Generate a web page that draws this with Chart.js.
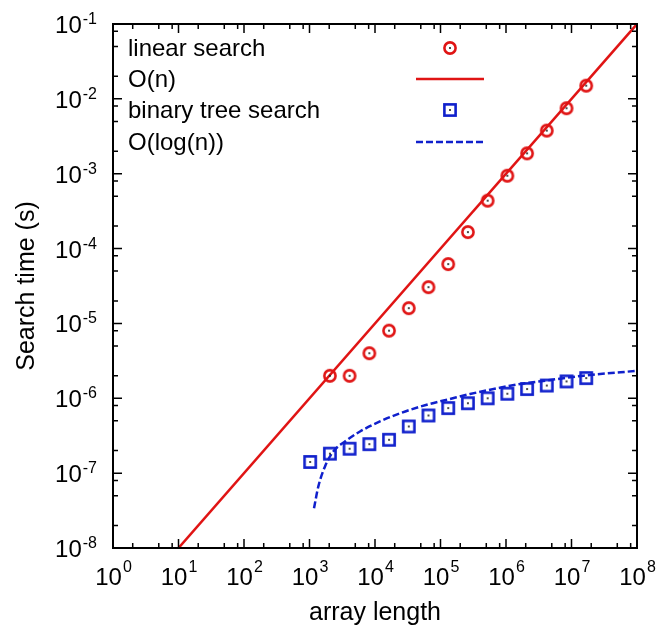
<!DOCTYPE html>
<html>
<head>
<meta charset="utf-8">
<script src="https://cdn.jsdelivr.net/npm/chart.js@4.4.0/dist/chart.umd.min.js"></script>
<style>
  html, body { margin: 0; padding: 0; background: #fff; }
  #wrap { width: 656px; height: 626px; }
</style>
</head>
<body>
<div id="wrap"><canvas id="myChart" width="656" height="626"></canvas></div>
<script>
// measured array lengths (powers of two) and search times
const treeLengths = [1024, 2048, 4096, 8192, 16384, 32768, 65536, 131072, 262144, 524288, 1048576, 2097152, 4194304, 8388608, 16777216];
const treeTimes = [1.41e-7, 1.82e-7, 2.12e-7, 2.44e-7, 2.79e-7, 4.2e-7, 5.9e-7, 7.4e-7, 8.6e-7, 1.0e-6, 1.15e-6, 1.33e-6, 1.48e-6, 1.68e-6, 1.86e-6];

const linearLengths = [2048, 4096, 8192, 16384, 32768, 65536, 131072, 262144, 524288, 1048576, 2097152, 4194304, 8388608, 16777216];
const linearTimes = [2.0e-6, 2.0e-6, 4.0e-6, 8.0e-6, 1.6e-5, 3.05e-5, 6.2e-5, 1.66e-4, 4.37e-4, 9.4e-4, 1.87e-3, 3.77e-3, 7.5e-3, 1.5e-2];

// fit curves
const fitNLengths = [10, 1e8];
const fitNTimes = [1e-8, 1e-1];
const fitLogLengths = [1172, 1362, 1725, 2308, 3483, 5902, 11900, 24100, 61600, 140000, 282000, 1640000, 4180000, 15100000, 100000000];
const fitLogTimes = [3.4e-8, 6.6e-8, 1.23e-7, 1.95e-7, 2.65e-7, 3.6e-7, 4.9e-7, 6.3e-7, 8.2e-7, 9.8e-7, 1.14e-6, 1.55e-6, 1.73e-6, 2.0e-6, 2.33e-6];

// axis tick labels (powers of ten) and minor tick multipliers
const xTickExps = [0, 1, 2, 3, 4, 5, 6, 7, 8];
const yTickExps = [-8, -7, -6, -5, -4, -3, -2, -1];
const minorSteps = [2, 5, 8];

const legendLabels = ['linear search', 'O(n)', 'binary tree search', 'O(log(n))'];

const RED = '#e01414';
const BLUE = '#1020cc';
const FONT = '"Liberation Sans", Arial, Helvetica, sans-serif';

const toPoints = (xs, ys) => xs.map((v, i) => ({x: v, y: ys[i]}));

// marker images: open circle / open square with a dot in the middle
function makeMarker(kind, color) {
    const c = document.createElement('canvas');
    c.width = 16;
    c.height = 16;
    const g = c.getContext('2d');
    g.strokeStyle = color;
    g.lineWidth = 2.6;
    if (kind === 'circle') {
        g.beginPath();
        g.arc(8, 8, 5.6, 0, Math.PI * 2);
        g.stroke();
    } else {
        g.strokeRect(2.4, 2.4, 11.2, 11.2);
    }
    g.fillStyle = '#222';
    g.fillRect(7.1, 7.1, 1.8, 1.8);
    return c;
}
const circleMarker = makeMarker('circle', RED);
const squareMarker = makeMarker('square', BLUE);

const frame = {
    id: 'frame',
    afterDraw(chart) {
        const {ctx, chartArea: a, scales: {x, y}} = chart;
        ctx.save();

        // ticks, inward on all four sides
        ctx.strokeStyle = '#000';
        ctx.lineWidth = 1.5;
        ctx.beginPath();
        xTickExps.forEach(e => {
            const px = x.getPixelForValue(Math.pow(10, e));
            ctx.moveTo(px, a.bottom); ctx.lineTo(px, a.bottom - 9);
            ctx.moveTo(px, a.top); ctx.lineTo(px, a.top + 9);
            if (e < 8) {
                minorSteps.forEach(m => {
                    const mx = x.getPixelForValue(m * Math.pow(10, e));
                    ctx.moveTo(mx, a.bottom); ctx.lineTo(mx, a.bottom - 5);
                    ctx.moveTo(mx, a.top); ctx.lineTo(mx, a.top + 5);
                });
            }
        });
        yTickExps.forEach(e => {
            const py = y.getPixelForValue(Math.pow(10, e));
            ctx.moveTo(a.left, py); ctx.lineTo(a.left + 9, py);
            ctx.moveTo(a.right, py); ctx.lineTo(a.right - 9, py);
            if (e < -1) {
                minorSteps.forEach(m => {
                    const my = y.getPixelForValue(m * Math.pow(10, e));
                    ctx.moveTo(a.left, my); ctx.lineTo(a.left + 5, my);
                    ctx.moveTo(a.right, my); ctx.lineTo(a.right - 5, my);
                });
            }
        });
        ctx.stroke();

        ctx.lineWidth = 2;
        ctx.strokeRect(a.left, a.top, a.right - a.left, a.bottom - a.top);

        // tick labels as 10 with a raised exponent
        ctx.fillStyle = '#000';
        ctx.textBaseline = 'alphabetic';
        const baseFont = '24px ' + FONT;
        const expFont = '16px ' + FONT;

        xTickExps.forEach(e => {
            const px = x.getPixelForValue(Math.pow(10, e));
            ctx.font = baseFont;
            const w1 = ctx.measureText('10').width;
            ctx.font = expFont;
            const w2 = ctx.measureText(String(e)).width;
            const left = px - (w1 + w2) / 2;
            ctx.textAlign = 'left';
            ctx.font = baseFont;
            ctx.fillText('10', left, 585);
            ctx.font = expFont;
            ctx.fillText(String(e), left + w1 + 1, 572);
        });

        yTickExps.forEach(e => {
            const py = y.getPixelForValue(Math.pow(10, e));
            const label = String(e);
            ctx.font = expFont;
            const w2 = ctx.measureText(label).width;
            ctx.textAlign = 'right';
            ctx.fillText(label, 97, py);
            ctx.font = baseFont;
            ctx.fillText('10', 97 - w2 - 1, py + 9);
        });

        // axis titles
        ctx.font = '25px ' + FONT;
        ctx.textAlign = 'center';
        ctx.fillText('array length', (a.left + a.right) / 2, 620);
        ctx.save();
        ctx.translate(34, (a.top + a.bottom) / 2);
        ctx.rotate(-Math.PI / 2);
        ctx.fillText('Search time (s)', 0, 0);
        ctx.restore();

        // legend, text on the left and sample on the right
        const rows = [48, 79, 110, 142];
        ctx.font = '24px ' + FONT;
        ctx.textAlign = 'left';
        ctx.textBaseline = 'middle';
        legendLabels.forEach((t, i) => ctx.fillText(t, 128, rows[i] + 1));

        ctx.drawImage(circleMarker, 450 - 8, rows[0] - 8);
        ctx.drawImage(squareMarker, 450 - 8, rows[2] - 8);

        ctx.lineWidth = 2.5;
        ctx.strokeStyle = RED;
        ctx.beginPath();
        ctx.moveTo(416, rows[1]); ctx.lineTo(484, rows[1]);
        ctx.stroke();

        ctx.strokeStyle = BLUE;
        ctx.setLineDash([7, 3]);
        ctx.beginPath();
        ctx.moveTo(416, rows[3]); ctx.lineTo(484, rows[3]);
        ctx.stroke();

        ctx.restore();
    }
};

let ctx = document.getElementById('myChart').getContext('2d');

let chart = new Chart(ctx, {
    type: 'line',
    data: {
        datasets: [
            {
                label: legendLabels[0],
                data: toPoints(linearLengths, linearTimes),
                showLine: false,
                pointStyle: circleMarker,
                pointRadius: 6
            },
            {
                label: legendLabels[1],
                data: toPoints(fitNLengths, fitNTimes),
                borderColor: RED,
                borderWidth: 2.5,
                pointRadius: 0
            },
            {
                label: legendLabels[2],
                data: toPoints(treeLengths, treeTimes),
                showLine: false,
                pointStyle: squareMarker,
                pointRadius: 6
            },
            {
                label: legendLabels[3],
                data: toPoints(fitLogLengths, fitLogTimes),
                borderColor: BLUE,
                borderWidth: 2.5,
                borderDash: [7, 3],
                cubicInterpolationMode: 'monotone',
                pointRadius: 0
            }
        ]
    },
    options: {
        responsive: false,
        animation: false,
        layout: {
            padding: {left: 113, right: 19, top: 24, bottom: 78}
        },
        plugins: {
            legend: {display: false},
            tooltip: {enabled: false}
        },
        scales: {
            x: {type: 'logarithmic', min: 1, max: 1e8, display: false},
            y: {type: 'logarithmic', min: 1e-8, max: 1e-1, display: false}
        }
    },
    plugins: [frame]
});
</script>
</body>
</html>
